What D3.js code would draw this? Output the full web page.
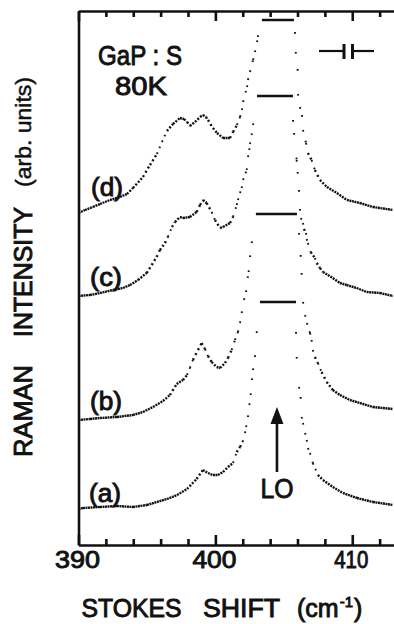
<!DOCTYPE html>
<html>
<head>
<meta charset="utf-8">
<script src="https://cdn.jsdelivr.net/npm/d3@7/dist/d3.min.js"></script>
<style>
  html, body { margin: 0; padding: 0; background: #fff; }
  svg { display: block; }
  text { font-family: "Liberation Sans", Arial, Helvetica, sans-serif; fill: #111; }
</style>
</head>
<body>
<div id="chart"></div>
<script>
// Raman spectra, [Stokes shift (cm-1), intensity (arb. units)]; null = peak cut
const curveA = [
  [390.0, 36], [390.33, 37], [391.57, 38], [392.81, 39], [393.98, 38], [395.0, 40],
  [395.73, 43], [396.46, 46], [397.2, 50], [397.93, 56], [398.63, 66], [399.09, 75],
  [399.46, 72], [399.82, 70], [400.19, 70], [400.56, 73], [400.92, 78], [401.29, 82],
  [401.56, 93], [401.8, 98], [401.99, 103], [402.16, 112], [402.24, 118], [402.38, 128],
  [402.48, 140], [402.58, 150], [402.67, 165], [402.75, 175], [402.89, 188], [403.02, 212],
  [403.11, 233], [404.5, null],
  [405.89, 213], [405.94, 188], [406.11, 158], [406.23, 148], [406.3, 128], [406.4, 122],
  [406.55, 112], [406.67, 105], [406.76, 97], [406.91, 92], [407.12, 82], [407.49, 70],
  [407.86, 65], [408.58, 58], [409.32, 52], [410.34, 47], [411.51, 43], [412.97, 40]
];
const curveB = [
  [390.0, 125], [390.84, 126], [391.57, 127], [392.81, 128], [393.98, 130], [394.71, 133],
  [395.44, 138], [396.17, 144], [396.68, 150], [397.17, 161], [397.63, 165], [397.93, 170],
  [398.14, 177], [398.36, 185], [398.73, 195], [399.0, 202], [399.24, 196], [399.46, 189],
  [399.73, 183], [400.09, 178], [400.34, 177], [400.7, 182], [400.92, 187], [401.19, 195],
  [401.43, 205], [401.65, 213], [401.8, 222], [401.92, 232], [402.09, 245], [402.24, 253],
  [402.36, 267], [402.43, 273], [402.53, 288], [402.65, 302], [402.75, 310], [404.5, null],
  [406.11, 312], [406.23, 290], [406.3, 272], [406.4, 243], [406.55, 230], [406.69, 222],
  [406.91, 212], [407.03, 205], [407.12, 195], [407.27, 188], [407.49, 182], [407.76, 173],
  [408.13, 163], [408.58, 155], [409.1, 150], [409.83, 145], [410.56, 142], [411.51, 138],
  [412.97, 136]
];
const curveC = [
  [390.0, 249], [390.84, 250], [391.57, 252], [392.52, 255], [393.25, 257], [393.76, 260],
  [394.35, 265], [394.98, 272], [395.35, 280], [395.71, 288], [395.95, 295], [396.32, 302],
  [396.53, 308], [396.83, 318], [397.05, 323], [397.41, 328], [397.63, 327], [398.14, 328],
  [398.63, 333], [398.88, 340], [399.09, 345], [399.36, 342], [399.73, 333], [399.97, 325],
  [400.34, 317], [400.56, 318], [401.07, 322], [401.29, 328], [401.56, 340], [401.65, 345],
  [401.8, 352], [401.92, 357], [402.02, 365], [402.29, 375], [402.38, 388], [402.48, 395],
  [402.53, 401], [402.65, 410], [402.75, 420], [402.89, 430], [404.3, null],
  [405.67, 425], [405.74, 412], [405.94, 385], [406.01, 373], [406.11, 355], [406.18, 336],
  [406.25, 327], [406.4, 322], [406.47, 316], [406.62, 312], [406.67, 306], [406.76, 302],
  [406.96, 293], [407.27, 287], [407.4, 282], [407.64, 277], [407.86, 273], [408.22, 270],
  [408.58, 267], [409.1, 262], [409.59, 260], [410.32, 257], [411.05, 253], [412.02, 252],
  [412.97, 249]
];
const curveD = [
  [390.0, 332], [390.47, 335], [391.06, 338], [391.57, 341], [392.3, 345], [393.03, 348],
  [393.54, 351], [393.98, 357], [394.71, 368], [395.22, 380], [395.73, 391], [396.1, 403],
  [396.46, 414], [396.9, 421], [397.41, 427], [397.71, 426], [397.93, 423], [398.14, 419],
  [398.51, 423], [398.88, 428], [399.09, 430], [399.31, 428], [399.46, 425], [399.82, 417],
  [400.12, 412], [400.56, 407], [401.07, 407], [401.29, 413], [401.58, 420], [401.8, 428],
  [401.94, 435], [402.02, 443], [402.31, 458], [402.38, 465], [402.53, 473], [402.75, 485],
  [402.89, 493], [403.04, 503], [403.11, 508], [403.18, 518], [404.5, null],
  [405.81, 513], [405.87, 493], [406.01, 476], [406.03, 451], [406.18, 438], [406.33, 430],
  [406.4, 415], [406.62, 402], [406.76, 392], [407.03, 385], [407.27, 375], [407.64, 365],
  [408.15, 358], [408.88, 352], [409.61, 345], [410.56, 342], [411.51, 338], [412.97, 335]
];
const curveLabels = ["(a)", "(b)", "(c)", "(d)"];

// horizontal marks at the cut LO peak of each spectrum
const peakCutLevel = [243, 331, 449, 525];
const peakCutFrom = [403.26, 402.96, 403.04, 403.4];
const peakCutTo = [405.89, 405.96, 405.67, 405.74];

const majorTicks = [390, 400, 410];
const minorTicks = [392, 394, 396, 398, 402, 404, 406, 408, 412];
const loShift = 404.5;

const width = 394, height = 624;
const margin = { top: 11, left: 78.5, bottom: 545 };

const svg = d3.select("#chart").append("svg")
  .attr("width", width)
  .attr("height", height);

const x = d3.scaleLinear().domain([390, 413.05]).range([margin.left, width]);
const y = d3.scaleLinear().domain([0, 534]).range([margin.bottom, margin.top]);

svg.append("clipPath").attr("id", "plot")
  .append("rect")
  .attr("x", margin.left).attr("y", margin.top)
  .attr("width", width - margin.left).attr("height", margin.bottom - margin.top);

// frame: bottom, top, left
const axisStroke = g => g.selectAll("path, line").attr("stroke", "#111").attr("stroke-width", 2.6);
svg.append("g").attr("transform", `translate(0,${margin.bottom})`)
  .call(d3.axisBottom(x).tickValues(majorTicks).tickSize(-10).tickSizeOuter(0).tickFormat(""))
  .call(axisStroke);
svg.append("g").attr("transform", `translate(0,${margin.bottom})`)
  .call(d3.axisBottom(x).tickValues(minorTicks).tickSize(-6).tickSizeOuter(0).tickFormat(""))
  .call(g => g.select(".domain").remove())
  .call(axisStroke);
svg.append("g").attr("transform", `translate(0,${margin.top})`)
  .call(d3.axisTop(x).tickValues(majorTicks).tickSize(-10).tickSizeOuter(0).tickFormat(""))
  .call(axisStroke);
svg.append("g").attr("transform", `translate(0,${margin.top})`)
  .call(d3.axisTop(x).tickValues(minorTicks).tickSize(-6).tickSizeOuter(0).tickFormat(""))
  .call(g => g.select(".domain").remove())
  .call(axisStroke);
svg.append("g").attr("transform", `translate(${margin.left},0)`)
  .call(d3.axisLeft(y).tickValues([]).tickSizeOuter(0))
  .call(axisStroke);

// text helper: size from cap height, width forced to the measured length
function label(txt, tx, ty, size, len, opts = {}) {
  const t = svg.append("text")
    .attr("transform", `translate(${tx},${ty})` + (opts.rotate ? " rotate(-90)" : ""))
    .attr("text-anchor", opts.anchor || "middle")
    .attr("font-size", size)
    .attr("stroke", "#111").attr("stroke-width", opts.stroke == null ? 0.9 : opts.stroke)
    .text(txt);
  if (len) t.attr("textLength", len).attr("lengthAdjust", "spacingAndGlyphs");
  return t;
}

// tick labels
const tickLabelLen = { 390: 45, 400: 44, 410: 34 };
majorTicks.forEach(v => label(String(v), x(v) - 1, 568, 23, tickLabelLen[v]));

// axis titles
label("STOKES", 131.5, 617, 25, 100);
label("SHIFT", 241.5, 617, 25, 77);
const unit = svg.append("text")
  .attr("transform", "translate(297,617)")
  .attr("font-size", 25).attr("stroke", "#111").attr("stroke-width", 0.9);
unit.append("tspan").text("(cm");
unit.append("tspan").attr("font-size", 15).attr("dy", -10).attr("dx", 1).text("-1");
unit.append("tspan").attr("dy", 10).attr("dx", 1).text(")");

label("RAMAN", 32, 457, 25, 92, { rotate: true, anchor: "start" });
label("INTENSITY", 32, 337, 25, 130, { rotate: true, anchor: "start" });
label("(arb. units)", 31, 187, 22, 110, { rotate: true, anchor: "start", stroke: 0.5 });

// sample annotation
label("GaP : S", 140, 65, 27, 84);
label("80K", 141, 95, 25, 52);

// spectra, drawn as dots spaced evenly in shift like the recorded points
const plot = svg.append("g").attr("clip-path", "url(#plot)");
const curves = [curveA, curveB, curveC, curveD];
const stepPx = 2.5, dotPx = 2.0;
curves.forEach(data => {
  for (let i = 1; i < data.length; i++) {
    const p0 = data[i - 1], p1 = data[i];
    if (p0[1] == null || p1[1] == null) continue;
    const x0 = x(p0[0]), y0 = y(p0[1]), x1 = x(p1[0]), y1 = y(p1[1]);
    const len = Math.hypot(x1 - x0, y1 - y0);
    const spacing = Math.max(stepPx, stepPx * len / Math.max(x1 - x0, 0.05));
    const steep = spacing > 6;
    const dot = steep ? 1.7 : dotPx;
    plot.append("line")
      .attr("x1", x0).attr("y1", y0).attr("x2", x1).attr("y2", y1)
      .attr("stroke", "#111").attr("stroke-width", steep ? 1.9 : 2.4)
      .attr("stroke-dasharray", `${dot} ${spacing - dot}`);
  }
});

// peak cut marks
plot.selectAll("line.cut")
  .data(peakCutLevel)
  .join("line")
  .attr("class", "cut")
  .attr("x1", (d, i) => x(peakCutFrom[i]))
  .attr("x2", (d, i) => x(peakCutTo[i]))
  .attr("y1", d => y(d)).attr("y2", d => y(d))
  .attr("stroke", "#111").attr("stroke-width", 2.4);

// curve labels
const labelPos = [[105, 502], [106, 410], [106, 286], [107, 196]];
curveLabels.forEach((t, i) => label(t, labelPos[i][0], labelPos[i][1], 25, 32));

// spectral resolution marker (top right)
const res = svg.append("g").attr("stroke", "#111");
res.append("line").attr("x1", 319).attr("x2", 344).attr("y1", 51).attr("y2", 51).attr("stroke-width", 2.2);
res.append("line").attr("x1", 352.5).attr("x2", 374).attr("y1", 51).attr("y2", 51).attr("stroke-width", 2.2);
res.append("line").attr("x1", 344).attr("x2", 344).attr("y1", 44).attr("y2", 59).attr("stroke-width", 3);
res.append("line").attr("x1", 352.5).attr("x2", 352.5).attr("y1", 44).attr("y2", 59).attr("stroke-width", 3);

// LO arrow
const ax = x(loShift);
svg.append("line").attr("x1", ax).attr("x2", ax).attr("y1", 420).attr("y2", 472)
  .attr("stroke", "#111").attr("stroke-width", 2.6);
svg.append("path")
  .attr("d", `M${ax},407 L${ax - 6.5},424 L${ax + 6.5},424 Z`)
  .attr("fill", "#111");
label("LO", ax, 498, 27, 33);
</script>
</body>
</html>
